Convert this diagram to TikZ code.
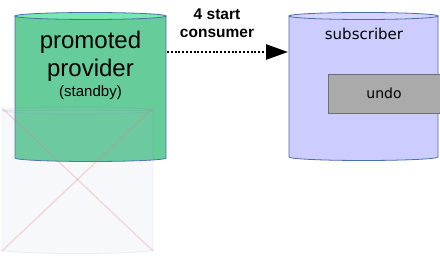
\documentclass[tikz,border=0pt]{standalone}
\usepackage{fontspec}
\setmainfont{Liberation Sans}
\newfontfamily\dejavu{DejaVu Sans}
\usetikzlibrary{arrows.meta}
\definecolor{provgreen}{RGB}{102,204,153}
\definecolor{provtop}{RGB}{120,232,178}
\definecolor{canedge}{RGB}{74,110,168}
\definecolor{sublilac}{RGB}{204,204,255}
\definecolor{subtop}{RGB}{212,212,255}
\definecolor{undogray}{RGB}{170,170,170}
\definecolor{undoedge}{RGB}{110,110,120}
\definecolor{ghostfill}{RGB}{175,185,225}
\definecolor{crossred}{RGB}{230,120,120}

% cylinder: centre x, x radius, top y, bottom y, body style, top style
\newcommand{\can}[6]{%
  \path[#5] (#1-#2,#3) -- (#1-#2,#4) arc[start angle=180, end angle=360, x radius=#2pt, y radius=3.5pt] -- (#1+#2,#3) -- cycle;
  \path[#6] (#1,#3) ellipse[x radius=#2pt, y radius=3.5pt];
}

\begin{document}
\begin{tikzpicture}[x=1pt, y=-1pt, >=latex]

  \tikzset{
    canbody/.style={draw=canedge, line width=0.8pt},
    ghost/.style={fill=ghostfill, fill opacity=0.1, draw=canedge, draw opacity=0.1, line width=0.8pt},
    bigtext/.style={font=\fontsize{24}{28}\selectfont, align=center},
    smalltext/.style={font=\fontsize{15}{18}\selectfont},
    steplabel/.style={font=\bfseries\fontsize{15.5}{18}\selectfont, align=center},
    subtext/.style={font=\dejavu\fontsize{15}{18}\selectfont},
    undobox/.style={draw=undoedge, fill=undogray, line width=0.8pt, minimum width=112pt, minimum height=39pt, font=\dejavu\fontsize{14}{17}\selectfont},
    dotarrow/.style={line width=2.5pt, dash pattern=on 2pt off 1.8pt, -{Triangle[length=22pt, width=15pt]}}
  }

  \useasboundingbox (0,0) rectangle (440,256);

  % --- provider (left) ---
  \can{90.5}{75.5}{16}{158}{canbody, fill=provgreen}{canbody, fill=provtop}
  \node[bigtext] (prov) at (90.5,56) {promoted\\provider};
  \node[smalltext] (standby) at (90.5,93) {(standby)};

  % --- removed copy (ghost) ---
  \can{77.5}{75.5}{110.5}{250}{ghost}{ghost}
  \draw[crossred, opacity=0.25, line width=1.5pt] (2,108) -- (153,251);
  \draw[crossred, opacity=0.25, line width=1.5pt] (153,108) -- (2,251);

  % --- subscriber (right) ---
  \can{363.5}{74.5}{16}{157}{canbody, fill=sublilac}{canbody, fill=subtop}
  \node[subtext] (sub) at (364,34) {subscriber};
  \node[undobox] (undo) at (384,93.5) {undo};

  % --- connector ---
  \coordinate (provR) at (167,52);
  \coordinate (subL) at (288,52);
  \draw[dotarrow] (provR) -- (subL);
  \node[steplabel] (start) at (217,23) {4 start\\consumer};

\end{tikzpicture}
\end{document}
